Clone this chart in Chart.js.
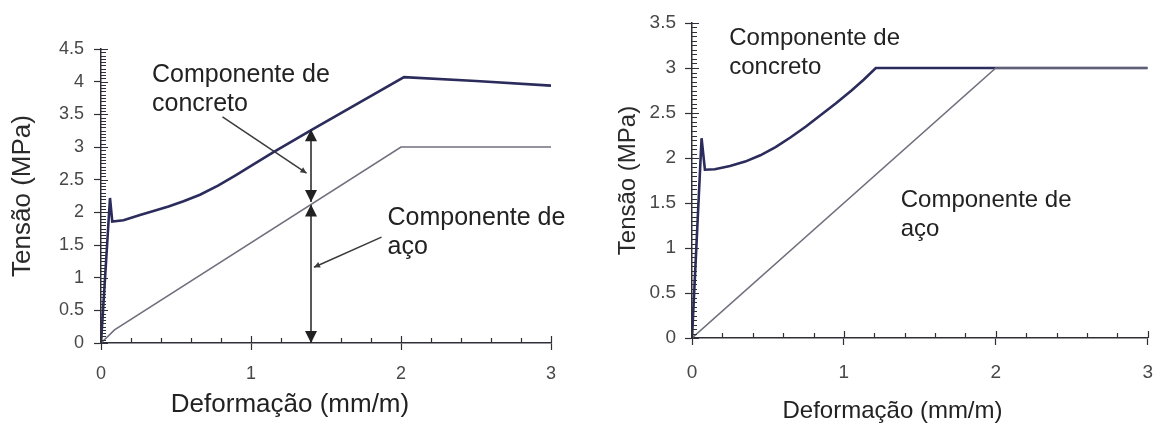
<!DOCTYPE html>
<html><head><meta charset="utf-8">
<script src="https://cdn.jsdelivr.net/npm/chart.js@4/dist/chart.umd.min.js"></script>
<style>
html,body{margin:0;padding:0;background:#fff;}
#wrap{position:relative;width:1169px;height:425px;overflow:hidden;background:#fff;}
#c1{position:absolute;left:0;top:0;}
#c2{position:absolute;left:590px;top:0;}
</style></head><body>
<div id="wrap"><canvas id="c1" width="580" height="425"></canvas><canvas id="c2" width="579" height="425"></canvas></div>
<script>
// ---------- data ----------
const xTickLabels = ['0', '1', '2', '3'];
const leftYTickLabels = ['0', '0.5', '1', '1.5', '2', '2.5', '3', '3.5', '4', '4.5'];
const rightYTickLabels = ['0', '0.5', '1', '1.5', '2', '2.5', '3', '3.5'];

const leftConcreteX = [0, 0.06, 0.075, 0.15, 0.26, 0.35, 0.45, 0.55, 0.66, 0.78, 0.9, 1.0, 1.15, 1.41, 2.02, 2.5, 3.0];
const leftConcreteY = [0, 2.22, 1.86, 1.88, 1.96, 2.02, 2.09, 2.17, 2.27, 2.41, 2.57, 2.71, 2.92, 3.27, 4.07, 4.01, 3.94];
const leftSteelX = [0, 0.09, 2.0, 3.0];
const leftSteelY = [0, 0.2, 3.0, 3.0];

const rightConcreteX = [0, 0.063, 0.085, 0.15, 0.25, 0.35, 0.45, 0.55, 0.65, 0.75, 0.85, 0.95, 1.05, 1.13, 1.21, 3.0];
const rightConcreteY = [0, 2.22, 1.87, 1.875, 1.91, 1.96, 2.03, 2.12, 2.23, 2.35, 2.48, 2.61, 2.75, 2.87, 3.0, 3.0];
const rightSteelX = [0, 2.0, 3.0];
const rightSteelY = [0, 3.0, 3.0];

// dimension arrow (left chart) and leader lines
const arrowLowerX = [1.4, 1.4];
const arrowLowerY = [0, 2.12];
const arrowUpperX = [1.4, 1.4];
const arrowUpperY = [2.16, 3.27];
const leaderConcreteX = [0.81, 1.37];
const leaderConcreteY = [3.46, 2.60];
const leaderSteelX = [1.87, 1.42];
const leaderSteelY = [1.62, 1.16];

const yTitle = 'Tensão (MPa)';
const xTitle = 'Deformação (mm/m)';
const concreteLabel = ['Componente de', 'concreto'];
const steelLabel = ['Componente de', 'aço'];

// ---------- helpers ----------
const FONT = "'Liberation Sans', Arial, sans-serif";
const AXIS = '#2f2f38';
const CONC = '#2b2c5c';
const STEEL = '#70707e';
const pts = (xs, ys) => xs.map((x, i) => ({x, y: ys[i]}));

const lineDs = (data, color, width, extra) => Object.assign({
  data, borderColor: color, borderWidth: width, pointRadius: 0, tension: 0, fill: false
}, extra || {});

function head(ctx, tx, ty, fx, fy, len, half) {
  const ang = Math.atan2(ty - fy, tx - fx);
  ctx.save();
  ctx.translate(tx, ty); ctx.rotate(ang);
  ctx.beginPath();
  ctx.moveTo(0, 0); ctx.lineTo(-len, half); ctx.lineTo(-len, -half); ctx.closePath();
  ctx.fill();
  ctx.restore();
}

const decor = {
  id: 'decor',
  afterDatasetsDraw(chart, args, o) {
    const {ctx, chartArea: a, scales: {x, y}} = chart;
    ctx.save();
    ctx.strokeStyle = AXIS; ctx.lineWidth = 1.2;
    ctx.beginPath();
    let n = Math.round((y.max - y.min) / o.yMinor);
    for (let i = 0; i <= n; i++) {
      const v = y.min + i * o.yMinor;
      const py = Math.round(y.getPixelForValue(v)) + 0.5;
      const major = i % o.yPer === 0;
      ctx.moveTo(a.left, py); ctx.lineTo(a.left + (major ? 7 : 5), py);
    }
    n = Math.round((x.max - x.min) / o.xMinor);
    for (let i = 0; i <= n; i++) {
      const v = x.min + i * o.xMinor;
      const px = Math.round(x.getPixelForValue(v)) + 0.5;
      const major = i % o.xPer === 0;
      ctx.moveTo(px, a.bottom); ctx.lineTo(px, a.bottom - (major ? 7 : 5));
    }
    ctx.stroke();
    chart.data.datasets.forEach((ds, i) => {
      if (!ds.heads) return;
      const p = chart.getDatasetMeta(i).data;
      const h = ds.heads;
      ctx.fillStyle = ds.borderColor;
      if (h.start) head(ctx, p[0].x, p[0].y, p[1].x, p[1].y, h.len, h.half);
      if (h.end) { const k = p.length - 1; head(ctx, p[k].x, p[k].y, p[k - 1].x, p[k - 1].y, h.len, h.half); }
    });
    ctx.restore();
  },
  afterDraw(chart, args, o) {
    const {ctx, chartArea: a, scales: {x, y}} = chart;
    ctx.save();
    ctx.fillStyle = '#222';
    ctx.textBaseline = 'middle';
    ctx.textAlign = 'left';
    ctx.font = o.noteFont;
    (o.notes || []).forEach(nt => {
      nt.lines.forEach((t, k) => ctx.fillText(t, x.getPixelForValue(nt.x), y.getPixelForValue(nt.y) + k * o.noteGap));
    });
    ctx.textAlign = 'center';
    ctx.font = o.xTitleFont;
    ctx.fillText(o.xTitle, x.getPixelForValue(o.xTitleAt), a.bottom + o.xTitleDy);
    ctx.restore();
  }
};

function makeOptions(c) {
  return {
    responsive: false,
    animation: false,
    events: [],
    layout: {padding: c.padding},
    plugins: {
      legend: {display: false}, tooltip: {enabled: false},
      decor: c.decor
    },
    scales: {
      x: {
        type: 'linear', min: 0, max: 3,
        afterFit: s => { s.height = c.xHeight; },
        grid: {display: true, drawOnChartArea: false, drawTicks: true, tickLength: 7, tickColor: AXIS, tickWidth: 1.2},
        border: {display: true, color: AXIS, width: 1.5},
        ticks: {stepSize: 1, autoSkip: false, maxRotation: 0, padding: c.xPad, color: '#484848',
          font: {family: FONT, size: c.tickSize}, callback: (v, i) => xTickLabels[i]}
      },
      y: {
        type: 'linear', min: 0, max: c.yMax,
        afterFit: s => { s.width = c.yWidth; },
        grid: {display: true, drawOnChartArea: false, drawTicks: true, tickLength: 7, tickColor: AXIS, tickWidth: 1.2},
        border: {display: true, color: AXIS, width: 1.5},
        ticks: {stepSize: 0.5, autoSkip: false, padding: c.yPad, color: '#484848',
          font: {family: FONT, size: c.tickSize}, callback: (v, i) => c.yLabels[i]},
        title: {display: true, text: yTitle, color: '#2a2a2a', font: {family: FONT, size: c.yTitleSize},
          padding: {top: c.yTitlePad, bottom: 0}}
      }
    }
  };
}

new Chart(document.getElementById('c1'), {
  type: 'line',
  data: {datasets: [
    lineDs(pts(leftSteelX, leftSteelY), STEEL, 1.6),
    lineDs(pts(leftConcreteX, leftConcreteY), CONC, 2.6),
    lineDs(pts(arrowLowerX, arrowLowerY), '#222', 1.5, {heads: {start: true, end: true, len: 12, half: 6}}),
    lineDs(pts(arrowUpperX, arrowUpperY), '#222', 1.5, {heads: {start: true, end: true, len: 12, half: 6}}),
    lineDs(pts(leaderConcreteX, leaderConcreteY), '#3a3a3a', 1.5, {heads: {end: true, len: 6, half: 3}}),
    lineDs(pts(leaderSteelX, leaderSteelY), '#3a3a3a', 1.5, {heads: {end: true, len: 6, half: 3}})
  ]},
  options: makeOptions({
    padding: {left: 0, top: 49, right: 29, bottom: 0},
    xHeight: 82, yWidth: 101, yMax: 4.5, yLabels: leftYTickLabels,
    tickSize: 18, xPad: 13, yPad: 10, yTitleSize: 26, yTitlePad: 7,
    decor: {
      yMinor: 0.05, yPer: 10, xMinor: 0.2, xPer: 5,
      noteFont: "25px " + FONT, noteGap: 29,
      notes: [{x: 0.34, y: 4.10, lines: concreteLabel}, {x: 1.91, y: 1.91, lines: steelLabel}],
      xTitle: xTitle, xTitleFont: "26px " + FONT, xTitleAt: 1.26, xTitleDy: 62
    }
  }),
  plugins: [decor]
});

new Chart(document.getElementById('c2'), {
  type: 'line',
  data: {datasets: [
    lineDs(pts(rightSteelX, rightSteelY), STEEL, 1.6),
    lineDs(pts(rightConcreteX, rightConcreteY), CONC, 2.6)
  ]},
  options: makeOptions({
    padding: {left: 0, top: 23, right: 12, bottom: 0},
    xHeight: 87, yWidth: 102, yMax: 3.5, yLabels: rightYTickLabels,
    tickSize: 19, xPad: 16, yPad: 9, yTitleSize: 24, yTitlePad: 24,
    decor: {
      yMinor: 0.05, yPer: 10, xMinor: 0.2, xPer: 5,
      noteFont: "24px " + FONT, noteGap: 29,
      notes: [{x: 0.245, y: 3.33, lines: concreteLabel}, {x: 1.374, y: 1.53, lines: steelLabel}],
      xTitle: xTitle, xTitleFont: "24px " + FONT, xTitleAt: 1.32, xTitleDy: 73
    }
  }),
  plugins: [decor]
});
</script>
</body></html>
